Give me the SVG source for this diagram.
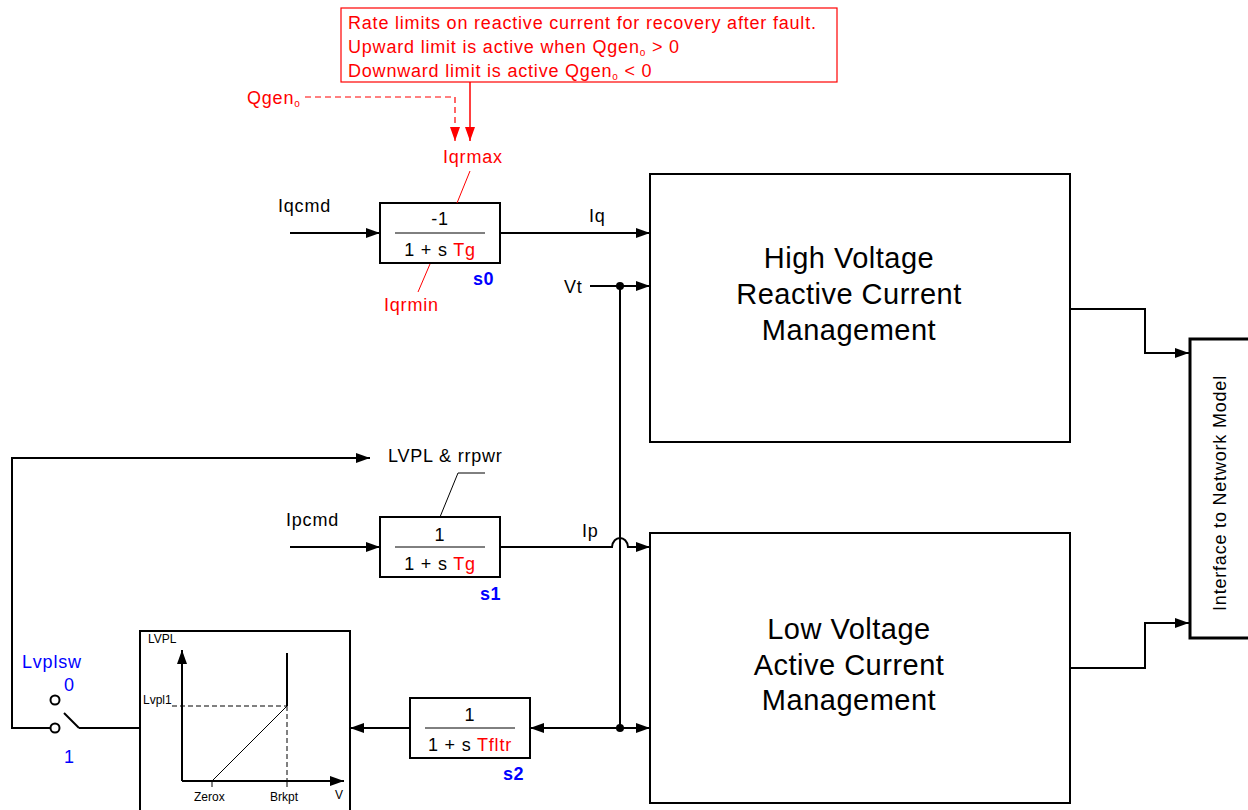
<svg xmlns="http://www.w3.org/2000/svg" width="1248" height="810" viewBox="0 0 1248 810">
<defs>
<marker id="ah" viewBox="0 0 14 10" refX="14" refY="5" markerWidth="14" markerHeight="10" markerUnits="userSpaceOnUse" orient="auto"><path d="M0,0 L14,5 L0,10 z" fill="#000"/></marker>
<marker id="ahs" viewBox="0 0 14 10" refX="14" refY="5" markerWidth="14" markerHeight="10" markerUnits="userSpaceOnUse" orient="auto"><path d="M0,0 L14,5 L0,10 z" fill="#f00"/></marker>
</defs>
<style>
text{font-family:"Liberation Sans",Arial,sans-serif;}
.t{font-size:18px;fill:#000;letter-spacing:0.8px;}
.r{font-size:18px;fill:#f00;letter-spacing:0.8px;}
.b{font-size:18px;fill:#00f;letter-spacing:0.8px;}
.bb{font-size:18px;fill:#00f;font-weight:bold;letter-spacing:0.5px;}
.big{font-size:29px;fill:#000;text-anchor:middle;letter-spacing:0.5px;}
.sm{font-size:12px;fill:#000;}
.box{fill:#fff;stroke:#000;stroke-width:2;}
.w{fill:none;stroke:#000;stroke-width:2;}
.thin{fill:none;stroke:#000;stroke-width:1;}
.red{fill:none;stroke:#f00;stroke-width:1.5;}
</style>
<rect width="1248" height="810" fill="#fff"/>

<g id="note">
<rect x="341" y="8" width="496" height="74" fill="#fff" stroke="#f00" stroke-width="1.2"/>
<text class="r" x="348" y="29">Rate limits on reactive current for recovery after fault.</text>
<text class="r" x="348" y="53">Upward limit is active when Qgen<tspan font-size="10" dy="3">o</tspan><tspan dy="-3"> &gt; 0</tspan></text>
<text class="r" x="348" y="77">Downward limit is active Qgen<tspan font-size="10" dy="3">o</tspan><tspan dy="-3"> &lt; 0</tspan></text>
</g>

<g id="qgen">
<text class="r" x="247" y="104">Qgen<tspan font-size="10" dy="3">o</tspan></text>
</g>

<g id="s0">
<rect class="box" x="380" y="203" width="120" height="60"/>
<line class="thin" x1="395" y1="233" x2="485" y2="233"/>
<text class="t" x="440" y="225" text-anchor="middle">-1</text>
<text class="t" x="440" y="256" text-anchor="middle">1 + s <tspan fill="#f00">Tg</tspan></text>
<text class="bb" x="473" y="285">s0</text>
<text class="r" x="443" y="163">Iqrmax</text>
<text class="r" x="384" y="311">Iqrmin</text>
<line x1="470" y1="171" x2="457" y2="203" stroke="#f00" stroke-width="1"/>
<line x1="430" y1="264" x2="418" y2="292" stroke="#f00" stroke-width="1"/>
</g>

<g id="s1">
<rect class="box" x="380" y="517" width="120" height="60"/>
<line class="thin" x1="395" y1="547" x2="485" y2="547"/>
<text class="t" x="440" y="541" text-anchor="middle">1</text>
<text class="t" x="440" y="570" text-anchor="middle">1 + s <tspan fill="#f00">Tg</tspan></text>
<text class="bb" x="480" y="600">s1</text>
<text class="t" x="388" y="462">LVPL &amp; rrpwr</text>
<polyline class="thin" points="440,517 458,473 485,473"/>
</g>

<g id="s2">
<rect class="box" x="410" y="698" width="120" height="60"/>
<line class="thin" x1="425" y1="728" x2="515" y2="728"/>
<text class="t" x="470" y="721" text-anchor="middle">1</text>
<text class="t" x="470" y="751" text-anchor="middle">1 + s <tspan fill="#f00">Tfltr</tspan></text>
<text class="bb" x="503" y="780">s2</text>
</g>

<g id="hv">
<rect class="box" x="650" y="174" width="420" height="268"/>
<text class="big" x="849" y="268">High Voltage</text>
<text class="big" x="849" y="304">Reactive Current</text>
<text class="big" x="849" y="340">Management</text>
</g>

<g id="lv">
<rect class="box" x="650" y="533" width="420" height="270"/>
<text class="big" x="849" y="639">Low Voltage</text>
<text class="big" x="849" y="675">Active Current</text>
<text class="big" x="849" y="710">Management</text>
</g>

<g id="iface">
<rect x="1190" y="339" width="62" height="299" fill="#fff" stroke="#000" stroke-width="3"/>
<text class="t" transform="translate(1226,493) rotate(-90)" text-anchor="middle">Interface to Network Model</text>
</g>

<g id="lvpl">
<rect class="box" x="140" y="631" width="210" height="185"/>
<line class="w" x1="182" y1="781" x2="182" y2="650" marker-end="url(#ah)"/>
<line class="w" x1="182" y1="781" x2="344" y2="781" marker-end="url(#ah)"/>
<text class="sm" x="148" y="643">LVPL</text>
<text class="sm" x="143" y="704">Lvpl1</text>
<line x1="172" y1="706" x2="287" y2="706" stroke="#000" stroke-width="1" stroke-dasharray="5,3"/>
<line x1="287" y1="706" x2="287" y2="781" stroke="#000" stroke-width="1" stroke-dasharray="5,3"/>
<line class="w" x1="287" y1="653" x2="287" y2="706"/>
<line class="thin" x1="212" y1="781" x2="287" y2="706"/>
<line class="thin" x1="212" y1="781" x2="212" y2="787"/>
<line class="thin" x1="287" y1="781" x2="287" y2="787"/>
<text class="sm" x="194" y="801">Zerox</text>
<text class="sm" x="270" y="801">Brkpt</text>
<text class="sm" x="335" y="799">V</text>
</g>

<g id="switch">
<text class="b" x="22" y="668">Lvplsw</text>
<text class="b" x="64" y="691">0</text>
<text class="b" x="64" y="763">1</text>
<circle cx="55" cy="700" r="4.5" fill="#fff" stroke="#000" stroke-width="2"/>
<circle cx="55" cy="728" r="4.5" fill="#fff" stroke="#000" stroke-width="2"/>
<line class="w" x1="64" y1="713" x2="79" y2="728"/>
</g>

<g id="connectors">
<line class="red" x1="470" y1="82" x2="470" y2="141" marker-end="url(#ahs)"/>
<polyline points="305,97 455,97 455,141" fill="none" stroke="#f00" stroke-width="1.2" stroke-dasharray="6,4" marker-end="url(#ahs)"/>
<text class="t" x="278" y="212">Iqcmd</text>
<line class="w" x1="290" y1="233" x2="380" y2="233" marker-end="url(#ah)"/>
<text class="t" x="589" y="222">Iq</text>
<line class="w" x1="500" y1="233" x2="650" y2="233" marker-end="url(#ah)"/>
<text class="t" x="564" y="293">Vt</text>
<line class="w" x1="590" y1="286" x2="650" y2="286" marker-end="url(#ah)"/>
<circle cx="620" cy="286" r="4" fill="#000"/>
<line class="w" x1="620" y1="286" x2="620" y2="728"/>
<circle cx="620" cy="728" r="4" fill="#000"/>
<line class="w" x1="620" y1="728" x2="650" y2="728" marker-end="url(#ah)"/>
<line class="w" x1="620" y1="728" x2="530" y2="728" marker-end="url(#ah)"/>
<line class="w" x1="410" y1="728" x2="350" y2="728" marker-end="url(#ah)"/>
<text class="t" x="286" y="526">Ipcmd</text>
<line class="w" x1="290" y1="547" x2="380" y2="547" marker-end="url(#ah)"/>
<text class="t" x="582" y="537">Ip</text>
<path class="w" d="M500,547 L612,547 C613,535 627,535 628,547 L650,547" marker-end="url(#ah)"/>
<polyline class="w" points="140,728 79,728"/>
<polyline class="w" points="50,728 12,728 12,458 370,458" marker-end="url(#ah)"/>
<polyline class="w" points="1070,309 1145,309 1145,353 1189,353" marker-end="url(#ah)"/>
<polyline class="w" points="1070,668 1145,668 1145,623 1189,623" marker-end="url(#ah)"/>
</g>
</svg>
